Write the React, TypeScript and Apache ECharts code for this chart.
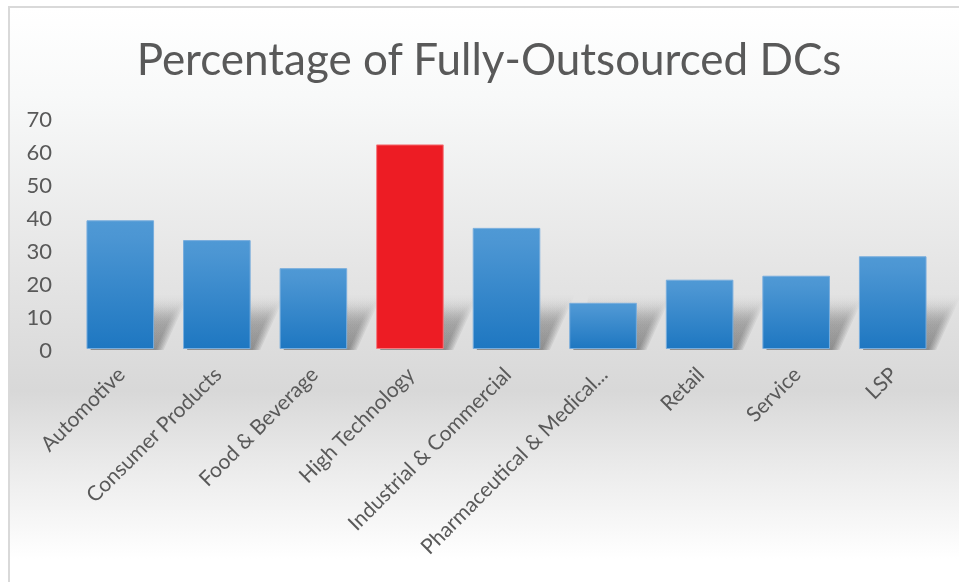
import React, { useEffect, useRef } from "react";
import * as echarts from "echarts";

const titleText = "Percentage of Fully-Outsourced DCs";
const categories = [
  "Automotive",
  "Consumer Products",
  "Food & Beverage",
  "High Technology",
  "Industrial & Commercial",
  "Pharmaceutical & Medical...",
  "Retail",
  "Service",
  "LSP",
];
const values = [39, 33, 24.5, 62, 36.7, 14, 21, 22.2, 28.1];
const highlightIndex = 3;
const yTicks = { min: 0, max: 70, interval: 10 };

export default function App() {
  const ref = useRef<HTMLDivElement>(null);
  useEffect(() => {
    if (!ref.current) return;
    const chart = echarts.init(ref.current, undefined, { renderer: "svg" });
    const blueGrad = new echarts.graphic.LinearGradient(0, 0, 0, 1, [
      { offset: 0, color: "#4f99d5" },
      { offset: 0.12, color: "#4c96d3" },
      { offset: 1, color: "#1e77c1" },
    ]);
    const barData = values.map((v, i) =>
      i === highlightIndex
        ? { value: v, itemStyle: { color: "#ed1c24", borderColor: "#f47a7f" } }
        : { value: v }
    );
    chart.setOption({
      animation: false,
      graphic: [
        {
          type: "rect",
          z: -10,
          silent: true,
          shape: { x: 10, y: 8, width: 960, height: 580 },
          style: {
            fill: new echarts.graphic.LinearGradient(0, 0, 0, 1, [
              { offset: 0, color: "#ffffff" },
              { offset: 0.15, color: "#f8f9f9" },
              { offset: 0.45, color: "#e5e5e5" },
              { offset: 0.66, color: "#d8d8d8" },
              { offset: 0.8, color: "#ececec" },
              { offset: 0.95, color: "#ffffff" },
              { offset: 1, color: "#ffffff" },
            ]),
          },
        },
        {
          type: "line",
          z: -5,
          silent: true,
          shape: { x1: 9, y1: 7, x2: 9, y2: 600 },
          style: { stroke: "#d9d9d9", lineWidth: 2 },
        },
        {
          type: "line",
          z: -5,
          silent: true,
          shape: { x1: 8, y1: 7, x2: 970, y2: 7 },
          style: { stroke: "#d9d9d9", lineWidth: 2 },
        },
        {
          type: "text",
          x: 489,
          y: 58,
          style: {
            text: titleText,
            fill: "#595959",
            font: "44px Lato",
            textAlign: "center",
            textVerticalAlign: "middle",
          },
        },
      ],
      grid: { left: 72, right: 18, top: 118, bottom: 233, containLabel: false },
      xAxis: {
        type: "category",
        data: categories,
        axisLine: { show: false },
        axisTick: { show: false },
        axisLabel: {
          rotate: 45,
          interval: 0,
          margin: 21,
          color: "#595959",
          fontFamily: "Lato",
          fontSize: 21,
        },
      },
      yAxis: {
        type: "value",
        min: yTicks.min,
        max: yTicks.max,
        interval: yTicks.interval,
        splitLine: { show: false },
        axisLine: { show: false },
        axisTick: { show: false },
        axisLabel: {
          margin: 20,
          color: "#595959",
          fontFamily: "Lato",
          fontSize: 22,
        },
      },
      series: [
        {
          type: "custom",
          z: 1,
          silent: true,
          data: values.map((v, i) => [i, v]),
          encode: { x: 0, y: 1 },
          renderItem: (params: any, api: any) => {
            const i = api.value(0);
            const v = api.value(1);
            const base = api.coord([i, 0]);
            const top = api.coord([i, v]);
            const w = api.size([1, 0])[0] * 0.7;
            const x0 = base[0] - w / 2;
            const x1 = base[0] + w / 2;
            const y0 = base[1];
            const h = Math.min(y0 - top[1], 40);
            const children: any[] = [];
            for (let k = 0; k < 6; k++) {
              const s = (5 - k) * 3;
              children.push({
                type: "polygon",
                shape: {
                  points: [
                    [x0 + 4, y0 + 1],
                    [x1 + 2 + s * 0.5, y0 + 1],
                    [x1 + 20 + s, y0 - h - s],
                    [x0 + 20, y0 - h - s],
                  ],
                },
                style: {
                  fill: new echarts.graphic.LinearGradient(0, 1, 0, 0, [
                    { offset: 0, color: "rgba(40,40,40,0.09)" },
                    { offset: 0.6, color: "rgba(40,40,40,0.06)" },
                    { offset: 1, color: "rgba(40,40,40,0)" },
                  ]),
                },
              });
            }
            return { type: "group", children };
          },
        },
        {
          type: "bar",
          z: 2,
          barWidth: "70%",
          data: barData,
          itemStyle: {
            color: blueGrad,
            borderColor: "#78addd",
            borderWidth: 1,
          },
        },
      ],
    });
    return () => chart.dispose();
  }, []);
  return (
    <div
      ref={ref}
      style={{ position: "fixed", left: 0, top: 0, width: 959, height: 582 }}
    />
  );
}
